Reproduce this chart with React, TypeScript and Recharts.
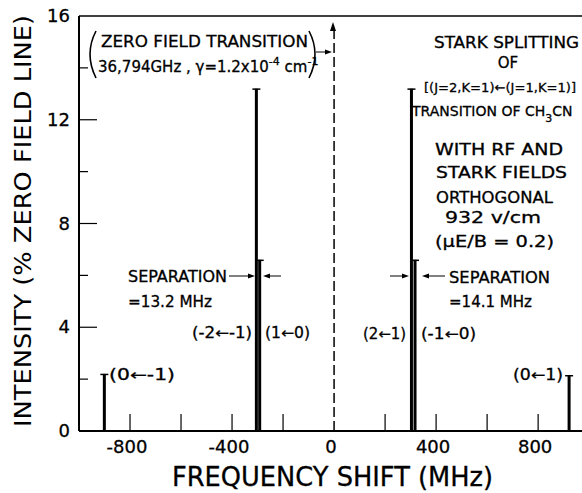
import { ComposedChart, Bar, XAxis, YAxis, ReferenceLine } from "recharts";

// Stark components: frequency shift (MHz) and intensity (% of zero field line)
const lineShifts = [-900, -304, -291, 304, 318, 922];
const lineIntensities = [2.2, 13.2, 6.6, 13.2, 6.6, 2.15];
const xTicks = [-800, -600, -400, -200, 0, 200, 400, 600, 800];
const xLabelTicks = [-800, -400, 0, 400, 800];
const yTicks = [0, 2, 4, 6, 8, 10, 12, 14, 16];
const yLabelTicks = [0, 4, 8, 12, 16];
const zeroFieldTop = 15.5;

const data = lineShifts.map((x, i) => ({ x, h: lineIntensities[i] }));

const FONT = "'DejaVu Sans', sans-serif";

function StickLine(props: any) {
  const { x, y, width, height } = props;
  const cx = x + width / 2;
  return (
    <g>
      <line x1={cx} x2={cx} y1={y} y2={y + height} stroke="#000" strokeWidth={3} />
      <line x1={cx - 4} x2={cx + 4} y1={y + 0.5} y2={y + 0.5} stroke="#000" strokeWidth={1.5} />
    </g>
  );
}

function XTick(props: any) {
  const { x, y, payload } = props;
  const v = payload.value;
  return (
    <g>
      {v !== 0 && <line x1={x} x2={x} y1={y} y2={y - 17} stroke="#000" strokeWidth={1.2} />}
      {xLabelTicks.includes(v) && (
        <text x={x - 3} y={y + 22} textAnchor="middle" fontSize={18} fontFamily={FONT} fill="#000" stroke="#000" strokeWidth={0.3}>
          {v}
        </text>
      )}
    </g>
  );
}

function YTick(props: any) {
  const { x, y, payload } = props;
  const v = payload.value;
  const major = yLabelTicks.includes(v);
  return (
    <g>
      {v !== 0 && v !== 16 && (
        <line x1={x} x2={x + (major ? 18 : 9)} y1={y} y2={y} stroke="#000" strokeWidth={1.2} />
      )}
      {major && (
        <text x={x - 9} y={y + 6} textAnchor="end" fontSize={18} fontFamily={FONT} fill="#000" stroke="#000" strokeWidth={0.3}>
          {v}
        </text>
      )}
    </g>
  );
}

function T({ x, y, w, size = 15, anchor = "start", children }: any) {
  return (
    <text
      x={x}
      y={y}
      fontSize={size}
      textAnchor={anchor}
      textLength={w}
      lengthAdjust={w ? "spacingAndGlyphs" : undefined}
      fontFamily={FONT}
      fill="#000"
      stroke="#000"
      strokeWidth={0.3}
    >
      {children}
    </text>
  );
}

function Arrow({ x1, y, x2 }: any) {
  const dir = x2 > x1 ? 1 : -1;
  return (
    <g>
      <line x1={x1} x2={x2 - dir * 5} y1={y} y2={y} stroke="#000" strokeWidth={1} />
      <polygon points={`${x2},${y} ${x2 - dir * 7},${y - 2.5} ${x2 - dir * 7},${y + 2.5}`} fill="#000" />
    </g>
  );
}

function Annotations() {
  return (
    <svg
      width={582}
      height={493}
      style={{ position: "absolute", left: 0, top: 0, pointerEvents: "none" }}
    >
      {/* axis titles */}
      <text
        transform="translate(31,221) rotate(-90)"
        textAnchor="middle"
        fontSize={23}
        fontFamily={FONT}
        textLength={412}
        lengthAdjust="spacingAndGlyphs"
      >
        INTENSITY (% ZERO FIELD LINE)
      </text>
      <T x={172} y={486} w={321} size={26}>FREQUENCY SHIFT (MHz)</T>

      {/* zero field line arrow */}
      <polygon points="333,22 330,31 336,31" fill="#000" />
      <path d="M 96 31 Q 84 54 96 78" stroke="#000" strokeWidth={1.6} fill="none" />
      <path d="M 309 31 Q 321 54 309 78" stroke="#000" strokeWidth={1.6} fill="none" />
      <T x={101} y={47} w={207} size={16}>ZERO FIELD TRANSITION</T>
      <T x={98} y={72} size={15}>
        36,794GHz , γ=1.2x10<tspan dy={-7} fontSize={11}>-4</tspan>
        <tspan dy={7}> cm</tspan>
        <tspan dy={-7} fontSize={11}>-1</tspan>
      </T>
      <Arrow x1={316} y={52} x2={332} />

      {/* right block */}
      <T x={434} y={48} w={145}>STARK SPLITTING</T>
      <T x={508} y={68} anchor="middle">OF</T>
      <T x={424} y={92} w={152} size={13}>[(J=2,K=1)←(J=1,K=1)]</T>
      <T x={412} y={116} size={14}>
        TRANSITION OF CH<tspan dy={6} fontSize={11}>3</tspan>
        <tspan dy={-6}>CN</tspan>
      </T>
      <T x={435} y={155} w={128}>WITH RF AND</T>
      <T x={436} y={178} w={131}>STARK FIELDS</T>
      <T x={436} y={203} w={117}>ORTHOGONAL</T>
      <T x={445} y={223} w={96}>932 v/cm</T>
      <T x={435} y={247} w={119}>(μE/B = 0.2)</T>

      {/* left separation */}
      <T x={128} y={282} w={99}>SEPARATION</T>
      <Arrow x1={229} y={276} x2={255} />
      <Arrow x1={281} y={276} x2={263} />
      <T x={128} y={307} w={84}>=13.2 MHz</T>
      <T x={192} y={338} w={60}>(-2←-1)</T>
      <T x={265} y={338} w={45}>(1←0)</T>
      <T x={109} y={380} w={66}>(0←-1)</T>

      {/* right separation */}
      <T x={449} y={283} w={101}>SEPARATION</T>
      <Arrow x1={390} y={276} x2={409} />
      <Arrow x1={445} y={276} x2={422} />
      <T x={449} y={307} w={83}>=14.1 MHz</T>
      <T x={363} y={339} w={43}>(2←1)</T>
      <T x={421} y={339} w={55}>(-1←0)</T>
      <T x={513} y={380} w={50}>(0←1)</T>
    </svg>
  );
}

export default function App() {
  return (
    <div style={{ position: "absolute", left: 0, top: 0, width: 582, height: 493, background: "#fff" }}>
      <ComposedChart
        width={582}
        height={493}
        data={data}
        margin={{ top: 16, right: 0, bottom: 0, left: 0 }}
      >
        <XAxis
          type="number"
          dataKey="x"
          domain={[-1000, 972]}
          ticks={xTicks}
          tick={<XTick />}
          tickLine={false}
          tickSize={0}
          tickMargin={0}
          axisLine={{ stroke: "#000", strokeWidth: 2 }}
          height={62}
          allowDataOverflow
        />
        <YAxis
          type="number"
          domain={[0, 16]}
          ticks={yTicks}
          tick={<YTick />}
          tickLine={false}
          tickSize={0}
          tickMargin={0}
          axisLine={{ stroke: "#000", strokeWidth: 2 }}
          width={79}
          allowDataOverflow
        />
        <ReferenceLine y={16} stroke="#000" strokeWidth={1.5} />
        <ReferenceLine
          segment={[
            { x: 0, y: 0 },
            { x: 0, y: zeroFieldTop },
          ]}
          stroke="#000"
          strokeWidth={1.5}
          strokeDasharray="10 4"
        />
        <Bar dataKey="h" barSize={3} shape={<StickLine />} isAnimationActive={false} />
      </ComposedChart>
      <Annotations />
    </div>
  );
}
